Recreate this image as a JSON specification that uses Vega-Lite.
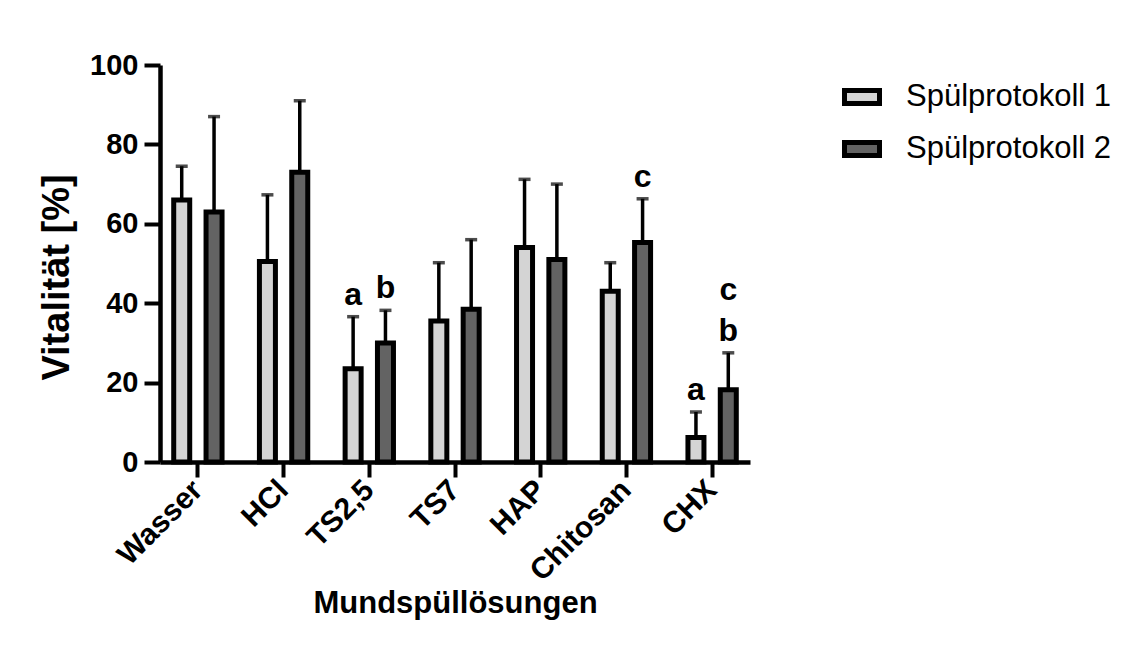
{
  "$schema": "https://vega.github.io/schema/vega-lite/v6.json",
  "width": 590,
  "height": 397,
  "autosize": {"type": "none"},
  "padding": {"left": 160, "top": 65, "right": 385, "bottom": 205},
  "background": "white",
  "config": {
    "view": {"stroke": null},
    "font": "Liberation Sans",
    "axis": {"domainColor": "black", "tickColor": "black", "labelColor": "black", "titleColor": "black", "grid": false, "labelFont": "Liberation Sans", "titleFont": "Liberation Sans"}
  },
  "datasets": {
    "bars": [
      {"cat": "Wasser", "grp": "Spülprotokoll 1", "mean": 66, "upper": 74.5},
      {"cat": "Wasser", "grp": "Spülprotokoll 2", "mean": 63, "upper": 87},
      {"cat": "HCl", "grp": "Spülprotokoll 1", "mean": 50.5, "upper": 67.3},
      {"cat": "HCl", "grp": "Spülprotokoll 2", "mean": 73, "upper": 91},
      {"cat": "TS2,5", "grp": "Spülprotokoll 1", "mean": 23.5, "upper": 36.6},
      {"cat": "TS2,5", "grp": "Spülprotokoll 2", "mean": 30, "upper": 38.2},
      {"cat": "TS7", "grp": "Spülprotokoll 1", "mean": 35.5, "upper": 50.2},
      {"cat": "TS7", "grp": "Spülprotokoll 2", "mean": 38.5, "upper": 56},
      {"cat": "HAP", "grp": "Spülprotokoll 1", "mean": 54, "upper": 71.2},
      {"cat": "HAP", "grp": "Spülprotokoll 2", "mean": 51, "upper": 70},
      {"cat": "Chitosan", "grp": "Spülprotokoll 1", "mean": 43, "upper": 50.2},
      {"cat": "Chitosan", "grp": "Spülprotokoll 2", "mean": 55.3, "upper": 66.3},
      {"cat": "CHX", "grp": "Spülprotokoll 1", "mean": 6.2, "upper": 12.6},
      {"cat": "CHX", "grp": "Spülprotokoll 2", "mean": 18.2, "upper": 27.5}
    ],
    "labels": [
      {"cat": "TS2,5", "grp": "Spülprotokoll 1", "label": "a", "ly": 39.5},
      {"cat": "TS2,5", "grp": "Spülprotokoll 2", "label": "b", "ly": 41.2},
      {"cat": "Chitosan", "grp": "Spülprotokoll 2", "label": "c", "ly": 69.2},
      {"cat": "CHX", "grp": "Spülprotokoll 1", "label": "a", "ly": 15.5},
      {"cat": "CHX", "grp": "Spülprotokoll 2", "label": "b", "ly": 30.5},
      {"cat": "CHX", "grp": "Spülprotokoll 2", "label": "c", "ly": 40.9}
    ]
  },
  "encoding": {
    "x": {
      "field": "cat", "type": "nominal", "sort": null,
      "scale": {"domain": ["Wasser", "HCl", "TS2,5", "TS7", "HAP", "Chitosan", "CHX"], "paddingInner": 0.436, "paddingOuter": 0.16},
      "axis": {
        "title": "Mundspüllösungen", "titleFontSize": 31, "titleFontWeight": "bold", "titleY": 150, "titleBaseline": "alphabetic",
        "labelAngle": -45, "labelAlign": "right", "labelBaseline": "middle", "labelFontSize": 30, "labelFontWeight": "bold", "labelPadding": 8,
        "domainWidth": 4.5, "tickWidth": 4, "tickSize": 15
      }
    },
    "xOffset": {
      "field": "grp", "type": "nominal",
      "scale": {"domain": ["Spülprotokoll 1", "Spülprotokoll 2"], "paddingInner": 0.505, "paddingOuter": 0}
    }
  },
  "layer": [
    {
      "data": {"name": "bars"},
      "mark": {"type": "rule", "color": "black", "strokeWidth": 3.5},
      "encoding": {
        "y": {"field": "mean", "type": "quantitative"},
        "y2": {"field": "upper"}
      }
    },
    {
      "data": {"name": "bars"},
      "mark": {"type": "tick", "color": "black", "size": 12, "thickness": 3.5},
      "encoding": {
        "y": {"field": "upper", "type": "quantitative"}
      }
    },
    {
      "data": {"name": "bars"},
      "mark": {"type": "bar", "stroke": "black", "strokeWidth": 5, "opacity": 1},
      "encoding": {
        "y": {
          "field": "mean", "type": "quantitative",
          "scale": {"domain": [0, 100], "nice": false},
          "axis": {
            "values": [0, 20, 40, 60, 80, 100], "title": "Vitalität [%]", "titleFontSize": 38, "titleFontWeight": "bold",
            "titleX": -103, "titleY": 212, "titleAngle": -90, "titleAlign": "center", "titleBaseline": "middle",
            "labelFontSize": 29, "labelFontWeight": "bold", "labelPadding": 6,
            "domainWidth": 4.5, "tickWidth": 4, "tickSize": 16
          }
        },
        "fill": {
          "field": "grp", "type": "nominal",
          "scale": {"domain": ["Spülprotokoll 1", "Spülprotokoll 2"], "range": ["#d4d4d4", "#636363"]},
          "legend": {
            "title": null, "orient": "none", "legendX": 682, "legendY": 12,
            "symbolType": "M-1,-0.37L1,-0.37L1,0.37L-1,0.37Z", "symbolSize": 1225,
            "symbolStrokeColor": "black", "symbolStrokeWidth": 5, "symbolOpacity": 1,
            "labelFont": "Liberation Sans", "labelFontSize": 31, "labelColor": "black", "labelOffset": 24,
            "rowPadding": 15, "labelLimit": 400
          }
        }
      }
    },
    {
      "data": {"name": "labels"},
      "mark": {"type": "text", "font": "Liberation Sans", "fontWeight": "bold", "fontSize": 32, "baseline": "alphabetic", "align": "center", "color": "black"},
      "encoding": {
        "y": {"field": "ly", "type": "quantitative"},
        "text": {"field": "label"}
      }
    }
  ]
}
